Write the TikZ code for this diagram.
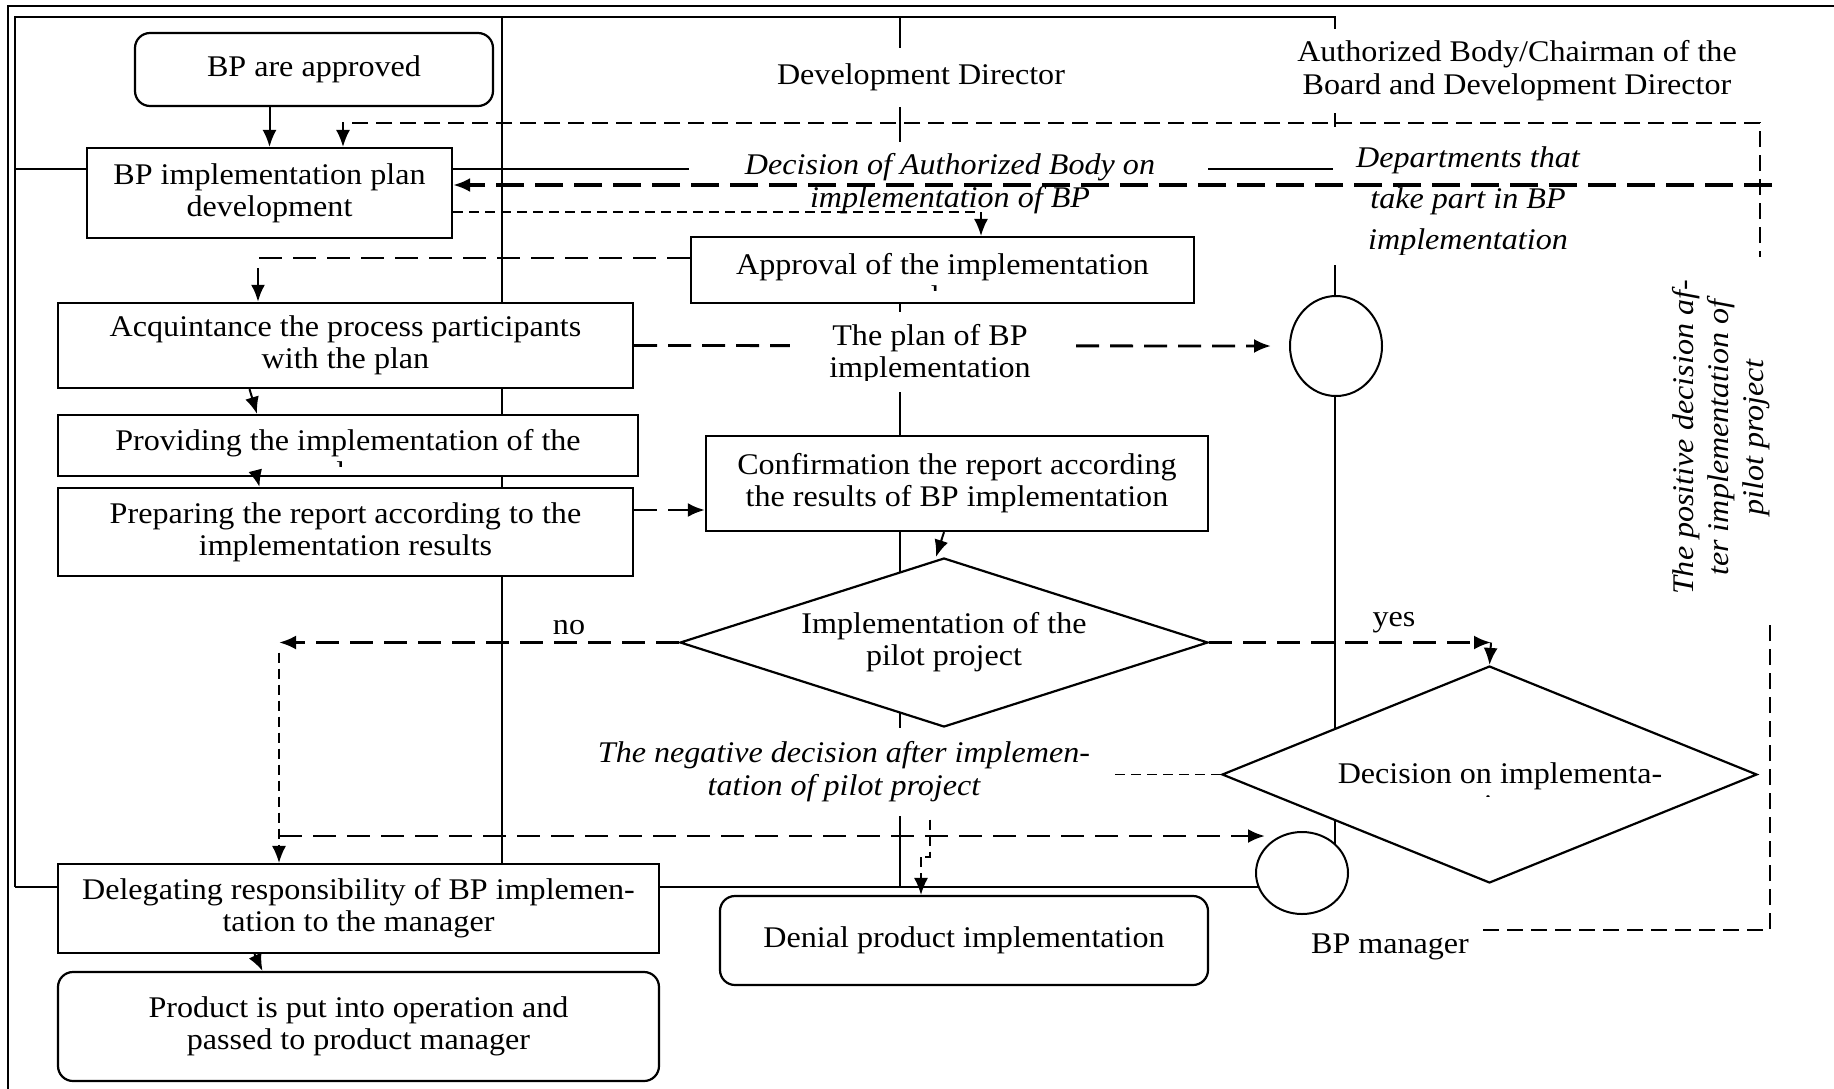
\documentclass[tikz,border=0pt]{standalone}
\usepackage{fontspec}
\setmainfont{Liberation Serif}[FakeStretch=1.07]
\usetikzlibrary{arrows.meta,shapes.geometric,calc}
\pgfdeclarelayer{lanes}
\pgfdeclarelayer{covers}
\pgfdeclarelayer{over}
\pgfsetlayers{lanes,covers,main,over}
\begin{document}
\begin{tikzpicture}[x=1pt,y=-1pt,
  every node/.style={font=\fontsize{30}{32}\selectfont, inner sep=0pt},
  box/.style={draw, line width=2.2pt, fill=white, align=center},
  rbox/.style={box, rounded corners=15pt},
  lane/.style={line width=2pt},
  cover/.style={fill=white, align=center},
  arr/.style={-{Latex[length=17pt,width=14pt]}},
  dmed/.style={line width=1.8pt, dash pattern=on 16pt off 8pt},
  dthick/.style={line width=2.8pt, dash pattern=on 23pt off 11pt},
  dbold/.style={line width=3.2pt, dash pattern=on 28pt off 11pt},
  dthin/.style={line width=1.6pt, dash pattern=on 10pt off 6pt},
  itf/.style={font=\fontsize{30}{33}\selectfont\itshape},
]
\useasboundingbox (0,0) rectangle (1834,1088);

% ---------- frame and lane lines ----------
\begin{pgfonlayer}{lanes}
\draw[line width=2.4pt] (8,1100) -- (8,6) -- (1845,6);
\draw[lane] (15,887) -- (15,17) -- (1335,17) -- (1335,873);
\draw[lane] (502,17) -- (502,887);
\draw[lane] (900,17) -- (900,887);
\draw[lane] (15,169) -- (1335,169);
\draw[lane] (15,887) -- (1302,887);
\end{pgfonlayer}

% ---------- header texts covering the lines ----------
\begin{pgfonlayer}{covers}
\node[cover, minimum width=300, minimum height=59] (devdir) at (921,77) {Development Director};
\node[cover, minimum height=84, font=\fontsize{30}{33}\selectfont] (auth) at (1517,71) {Authorized Body/Chairman of the\\Board and Development Director};
\node[cover, minimum width=519, minimum height=94] (decabbg) at (948.5,189) {};
\node[itf, align=center] (decab) at (950,184) {Decision of Authorized Body on\\implementation of BP};
\node[cover, minimum width=270, minimum height=138] (deptbg) at (1468,196) {};
\begin{scope}
\clip (1330,120) rectangle (1610,254);
\node[align=center, font=\fontsize{30}{41}\selectfont\itshape] (dept) at (1468,201) {Departments that\\take part in BP\\implementation};
\end{scope}
\end{pgfonlayer}

% ---------- boxes ----------
\node[rbox, minimum width=358, minimum height=73] (approved) at (314,69.5) {BP are approved};
\node[box, minimum width=365, minimum height=90] (plan) at (269.5,193) {BP implementation plan\\development};
\node[box, minimum width=503, minimum height=66] (approval) at (942.5,270) {};
\node[box, minimum width=575, minimum height=85] (acq) at (345.5,345.5) {Acquintance the process participants\\with the plan};
\node[box, minimum width=580, minimum height=61] (prov) at (348,445.5) {};
\node[box, minimum width=575, minimum height=88] (prep) at (345.5,532) {Preparing the report according to the\\implementation results};
\node[box, minimum width=502, minimum height=95] (confirm) at (957,483.5) {Confirmation the report according\\the results of BP implementation};
\node[box, diamond, aspect=3.12, minimum width=528, minimum height=169] (d1) at (944,642.5) {Implementation of the\\pilot project};
\node[box, diamond, aspect=2.47, minimum width=535, minimum height=217] (d2) at (1489.5,774.5) {};
\node[box, minimum width=601, minimum height=89] (deleg) at (358.5,908.5) {Delegating responsibility of BP implemen-\\tation to the manager};
\node[rbox, minimum width=601, minimum height=109] (product) at (358.5,1026.5) {Product is put into operation and\\passed to product manager};
\node[rbox, minimum width=488, minimum height=89] (denial) at (964,940.5) {Denial product implementation};
\node[draw, line width=2pt, fill=white, ellipse, minimum width=92, minimum height=100] (c1) at (1336,346) {};
\node[draw, line width=2pt, fill=white, ellipse, minimum width=92, minimum height=82] (c2) at (1302,873) {};

% clipped texts inside boxes
\begin{scope}
\clip (691,237) rectangle (1194,290);
\node[align=center] (apptxt) at (942.5,283) {Approval of the implementation\\plan};
\end{scope}
\begin{scope}
\clip (58,415) rectangle (638,466);
\node[align=center] (provtxt) at (348,459) {Providing the implementation of the\\plan};
\end{scope}
\begin{scope}
\clip (1250,700) rectangle (1740,796);
\node[align=center] (d2txt) at (1500,789) {Decision on implementa-\\tion};
\end{scope}

% ---------- labels ----------
\node (no) at (569,628) {no};
\node (yes) at (1394,623) {yes};
\node (bpm) at (1390,947) {BP manager};

% ---------- connectors ----------
\draw[lane, arr] (approved.south -| plan.north) -- (plan.north);
\coordinate (posstart) at (1483,930);
\coordinate (pd) at (343,123);
\draw[dmed, arr] (posstart) -- (1770,930) -- (1770,440) -- (1760,440) -- (1760,123) -- (pd) -- (pd |- plan.north);
\coordinate (fb) at (1772,185);
\draw[dbold, arr] (fb) -- (fb -| plan.east);
\coordinate (ta) at (981,212);
\draw[dthin, arr] (plan.east |- ta) -- (ta) -- (ta |- approval.north);
\coordinate (tb) at (258,258);
\draw[dthick, arr] (approval.west |- tb) -- (tb) -- (tb |- acq.north);
\draw[dthick, arr] (acq.east) -- ([xshift=-18pt]c1.west);
\draw[lane, arr] ([xshift=-96pt]acq.south) -- ([xshift=-91pt]prov.north);
\draw[lane, arr] ([xshift=-91pt]prov.south) -- ([xshift=-86pt]prep.north);
\draw[dthick, arr] ([yshift=22pt]prep.east) coordinate (pe) -- (pe -| confirm.west);
\draw[lane, arr] ([xshift=-13pt]confirm.south) -- ([xshift=-8pt]d1.north);
\coordinate (nc) at (279,642.5);
\draw[dthick, arr] (d1.west) -- (nc);
\draw[dthin, arr] ([yshift=-10pt]nc) -- (nc |- deleg.north);
\coordinate (nd) at (279,836);
\draw[dthick, arr] (nd) -- ([xshift=10pt]c2.west |- nd);
\coordinate (yc) at (1491,642.5);
\draw[dthick, arr] (d1.east) -- (yc);
\draw[lane, arr] (yc) -- (d2.north);
\coordinate (ng) at (930,857);
\coordinate (nh) at (921,857);
\draw[dthin] (d2.west) -- (d2.west -| ng) -- (ng) -- (nh);
\draw[dthin, arr] (nh) -- (nh |- denial.north);
\draw[lane, arr] ([xshift=-104pt]deleg.south) -- ([xshift=-96pt]product.north);

% ---------- texts lying over connectors ----------
\begin{pgfonlayer}{over}
\node[cover, minimum width=278, minimum height=80] (planbg) at (929,352) {};
\begin{scope}
\clip (785,300) rectangle (1075,380);
\node[align=center] (plantxt) at (930,354) {The plan of BP\\implementation};
\end{scope}
\node[cover, itf, minimum width=530, minimum height=88] (neg) at (844,772) {The negative decision after implemen-\\tation of pilot project};
\node[cover, rotate=90, minimum width=361, minimum height=108, font=\fontsize{30}{35}\selectfont\itshape] (posdec) at (1721,437.5) {The positive decision af-\\ter implementation of\\pilot project};
\end{pgfonlayer}
\end{tikzpicture}
\end{document}
